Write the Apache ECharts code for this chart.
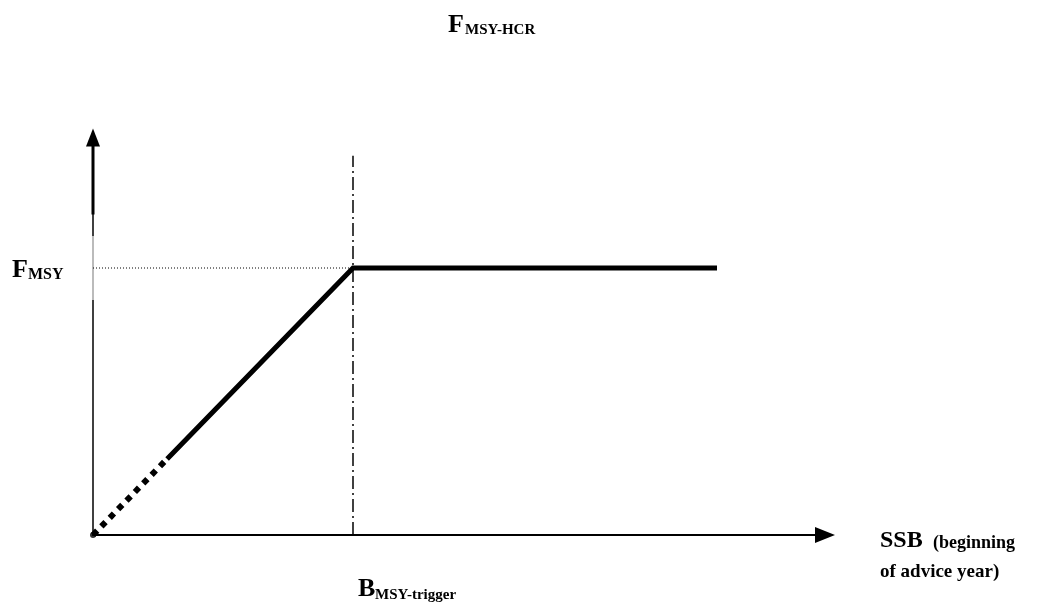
<!DOCTYPE html>
<html>
<head>
<meta charset="utf-8">
<title>FMSY HCR</title>
<script src="https://cdn.jsdelivr.net/npm/echarts@6/dist/echarts.min.js"></script>
<style>
    html, body { margin: 0; padding: 0; background: #fff; }
    #hcrBox { width: 1040px; height: 603px; }
</style>
</head>
<body>
<div id="hcrBox"></div>
<script>
// HCR schematic, units: Btrigger = 1, FMSY = 1
var xMax = 2.8;
var yMax = 1.5;
var bTrigger = 1;
var fMsy = 1;
var plateauEnd = 2.4;
var dottedEnd = 0.285;      // below this SSB the ramp is dotted
var triggerLineTop = 1.42;

var rampDotted = [[0, 0], [dottedEnd, dottedEnd * fMsy / bTrigger]];
var rampSolid = [[dottedEnd, dottedEnd * fMsy / bTrigger], [bTrigger, fMsy], [plateauEnd, fMsy]];
var fMsyGuide = [[0, fMsy], [bTrigger, fMsy]];
var triggerLine = [[bTrigger, 0], [bTrigger, triggerLineTop]];
var yAxisThick = [[0, 1.2], [0, 1.47]];
var yAxisFaint = [[0, 0.88], [0, 1.12]];
var originPoint = [[0, 0]];

var serif = '"Liberation Serif", "Times New Roman", serif';

function label(x, y, text, size) {
    return {
        type: 'text',
        left: x,
        top: y,
        style: {
            text: text,
            font: 'bold ' + size + 'px ' + serif,
            fill: '#000'
        }
    };
}

function initHCR() {
    var myChart_hcr = echarts.init(document.getElementById('hcrBox'));

    var option_hcr = {
        animation: false,
        backgroundColor: '#fff',
        grid: {
            left: 93,
            top: 535 - yMax * 267,
            width: xMax * 260,
            height: yMax * 267
        },
        xAxis: {
            type: 'value',
            min: 0,
            max: xMax,
            axisLine: {
                show: true,
                symbol: ['none', 'triangle'],
                symbolSize: [16, 20],
                symbolOffset: [0, 4],
                lineStyle: { color: '#000', width: 2 }
            },
            axisTick: { show: false },
            axisLabel: { show: false },
            splitLine: { show: false }
        },
        yAxis: {
            type: 'value',
            min: 0,
            max: yMax,
            axisLine: {
                show: true,
                symbol: ['none', 'triangle'],
                symbolSize: [14, 18],
                symbolOffset: [0, -3],
                lineStyle: { color: '#000', width: 1.5 }
            },
            axisTick: { show: false },
            axisLabel: { show: false },
            splitLine: { show: false }
        },
        series: [
            {
                type: 'line',
                data: yAxisFaint,
                symbol: 'none',
                lineStyle: { color: '#bbb', width: 2 },
                z: 3
            },
            {
                type: 'line',
                data: yAxisThick,
                symbol: 'none',
                lineStyle: { color: '#000', width: 3 }
            },
            {
                type: 'line',
                data: fMsyGuide,
                symbol: 'none',
                lineStyle: { color: '#000', width: 1, type: [1, 2] }
            },
            {
                type: 'line',
                data: triggerLine,
                symbol: 'none',
                lineStyle: { color: '#000', width: 1.5, type: [13, 4, 2, 4] }
            },
            {
                type: 'line',
                data: rampDotted,
                symbol: 'none',
                lineStyle: { color: '#000', width: 6, type: [6, 6] }
            },
            {
                type: 'line',
                data: rampSolid,
                symbol: 'none',
                lineStyle: { color: '#000', width: 5, join: 'miter' }
            },
            {
                type: 'scatter',
                data: originPoint,
                symbol: 'circle',
                symbolSize: 6,
                itemStyle: { color: '#000' }
            }
        ],
        graphic: [
            label(448, 12, 'F', 26),
            label(465, 23, 'MSY-HCR', 15),
            label(12, 257, 'F', 26),
            label(28, 267, 'MSY', 16),
            label(358, 576, 'B', 26),
            label(375, 588, 'MSY-trigger', 15),
            label(880, 529, 'SSB', 24),
            label(933, 534, '(beginning', 18),
            label(880, 563, 'of advice year)', 19)
        ]
    };

    myChart_hcr.setOption(option_hcr);
}

initHCR();
</script>
</body>
</html>
